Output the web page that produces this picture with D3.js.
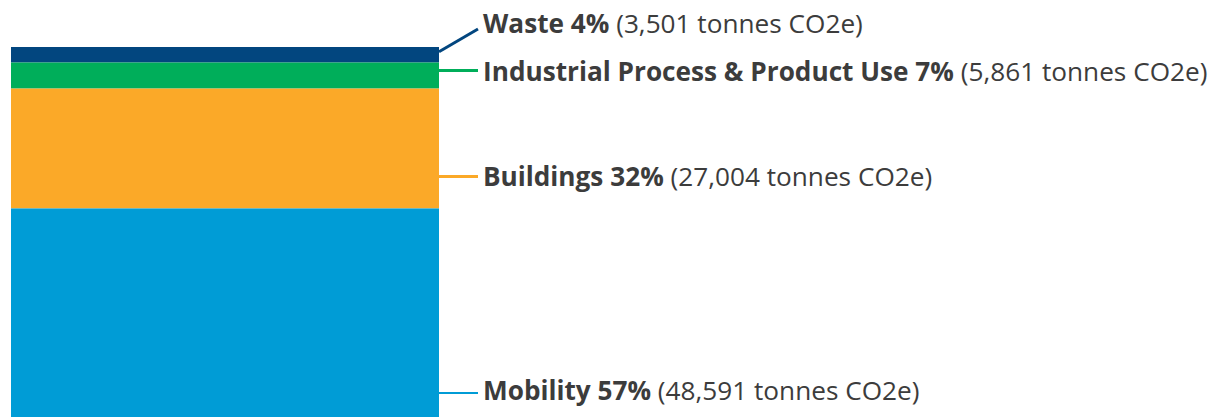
<!DOCTYPE html>
<html>
<head>
<meta charset="utf-8">
<script src="https://cdn.jsdelivr.net/npm/d3@7"></script>
<style>
  body { margin: 0; background: #fff; overflow: hidden; }
  svg { display: block; }
  .label { font-family: "Open Sans", sans-serif; font-size: 26.2px; fill: #3c3c3c; }
  .label .name { font-weight: 700; }
</style>
</head>
<body>
<div id="chart"></div>
<script>
// ************ data ************
const categories = ["Waste", "Industrial Process & Product Use", "Buildings", "Mobility"]
const percents = [4, 7, 32, 57]
const tonnes = [3501, 5861, 27004, 48591]
const colors = ["#02467f", "#00ae5a", "#fba928", "#009cd6"]

// ************ layout ************
const width = 1214
const height = 417
const barLeft = 11
const barRight = 439
const barTop = 47
const labelX = 483
// hand placed label positions, like the original
const leaderY = [29, 70.5, 176.5, 393]
const baselineY = [33, 81, 186, 400]

const total = d3.sum(tonnes)

// bar is taller than the window, bottom gets clipped
const y = d3.scaleLinear()
  .domain([0, total])
  .range([barTop, barTop + total * 0.00444])

let acc = 0
const data = categories.map(function(c, i) {
  const d = { name: c, pct: percents[i], value: tonnes[i], color: colors[i], y0: acc, y1: acc + tonnes[i] }
  acc += tonnes[i]
  return d
})

const svg = d3.select("#chart")
  .append("svg")
  .attr("width", width)
  .attr("height", height)

// stacked segments
svg.selectAll(".seg")
  .data(data)
  .enter()
  .append("rect")
  .attr("class", "seg")
  .attr("x", barLeft)
  .attr("width", barRight - barLeft)
  .attr("y", function(d) { return y(d.y0) })
  .attr("height", function(d) { return y(d.y1) - y(d.y0) })
  .style("fill", function(d) { return d.color })

// leader lines
svg.selectAll(".leader")
  .data(data)
  .enter()
  .append("line")
  .attr("class", "leader")
  .attr("x1", barRight)
  .attr("y1", function(d, i) { return i === 0 ? (y(d.y0) + y(d.y1)) / 2 - 3 : leaderY[i] })
  .attr("x2", labelX - 5)
  .attr("y2", function(d, i) { return leaderY[i] })
  .style("stroke", function(d) { return d.color })
  .style("stroke-width", function(d, i) { return i === 3 ? 2 : 3 })

// labels
const fmt = d3.format(",")
const label = svg.selectAll(".label")
  .data(data)
  .enter()
  .append("text")
  .attr("class", "label")
  .attr("x", labelX)
  .attr("y", function(d, i) { return baselineY[i] })

label.append("tspan")
  .attr("class", "name")
  .text(function(d) { return d.name + " " + d.pct + "%" })

label.append("tspan")
  .text(function(d) { return " (" + fmt(d.value) + " tonnes CO2e)" })
</script>
</body>
</html>
